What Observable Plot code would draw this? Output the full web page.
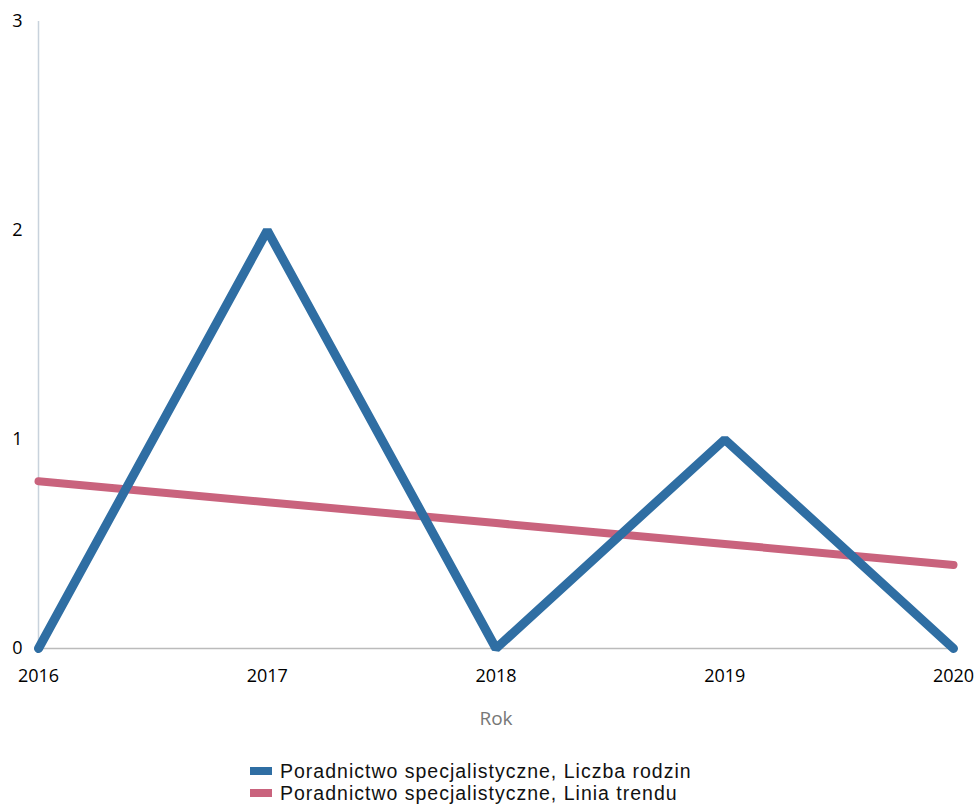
<!DOCTYPE html>
<html>
<head>
<meta charset="utf-8">
<script src="https://cdn.jsdelivr.net/npm/d3@7"></script>
<script src="https://cdn.jsdelivr.net/npm/@observablehq/plot@0.6"></script>
<style>
  body { margin: 0; background: #fff; font-family: "Open Sans", sans-serif; }
  #legend { position: absolute; left: 250px; top: 760px; font-family: "Liberation Sans", Arial, sans-serif; font-size: 19.5px; letter-spacing: 1px; color: #111; }
  .row { display: flex; align-items: center; height: 22px; }
  .row span { display: block; line-height: 22px; height: 22px; white-space: nowrap; }
  .sw { width: 22px; height: 8px; margin-right: 8px; }
</style>
</head>
<body>
<div id="chart"></div>
<div id="legend"></div>
<script>
const years = [2016, 2017, 2018, 2019, 2020];
const families = [0, 2, 0, 1, 0];
const trend = [0.8, 0.7, 0.6, 0.5, 0.4];
const yTicks = [0, 1, 2, 3];
const seriesNames = ["Poradnictwo specjalistyczne, Liczba rodzin", "Poradnictwo specjalistyczne, Linia trendu"];
const seriesColors = ["#2f6ea3", "#c9637d"];

const famData = years.map((y, i) => ({year: y, value: families[i]}));
const trendData = years.map((y, i) => ({year: y, value: trend[i]}));

const chart = Plot.plot({
  width: 979,
  height: 740,
  marginTop: 21,
  marginBottom: 92,
  marginLeft: 38,
  marginRight: 26,
  style: {fontFamily: "Open Sans", fontSize: "17px", color: "#000"},
  x: {domain: [2016, 2020]},
  y: {domain: [0, 3]},
  marks: [
    Plot.ruleX([2016], {stroke: "#c8d2dc", strokeWidth: 1.5}),
    Plot.ruleY([0], {stroke: "#bbb", strokeWidth: 1.5}),
    Plot.axisX({ticks: years, tickFormat: "d", tickSize: 0, tickPadding: 21, fontSize: 18,
      label: "Rok", labelAnchor: "center", labelOffset: 76, labelArrow: "none"}),
    Plot.axisY({ticks: yTicks, tickFormat: "d", tickSize: 0, tickPadding: 16, fontSize: 18, label: null}),
    Plot.lineY(trendData, {x: "year", y: "value", stroke: seriesColors[1], strokeWidth: 8}),
    Plot.lineY(famData, {x: "year", y: "value", stroke: seriesColors[0], strokeWidth: 9, strokeLinejoin: "miter"})
  ]
});
document.getElementById("chart").appendChild(chart);
// style the axis label gray, normal weight
d3.select(chart).selectAll("[aria-label='x-axis label'], [aria-label='x-axis label'] text")
  .attr("fill", "#777").attr("font-weight", "400").attr("font-size", "19");

const legend = d3.select("#legend");
seriesNames.forEach((n, i) => {
  const r = legend.append("div").attr("class", "row");
  r.append("div").attr("class", "sw").style("background", seriesColors[i]);
  r.append("span").text(n);
});
</script>
</body>
</html>
